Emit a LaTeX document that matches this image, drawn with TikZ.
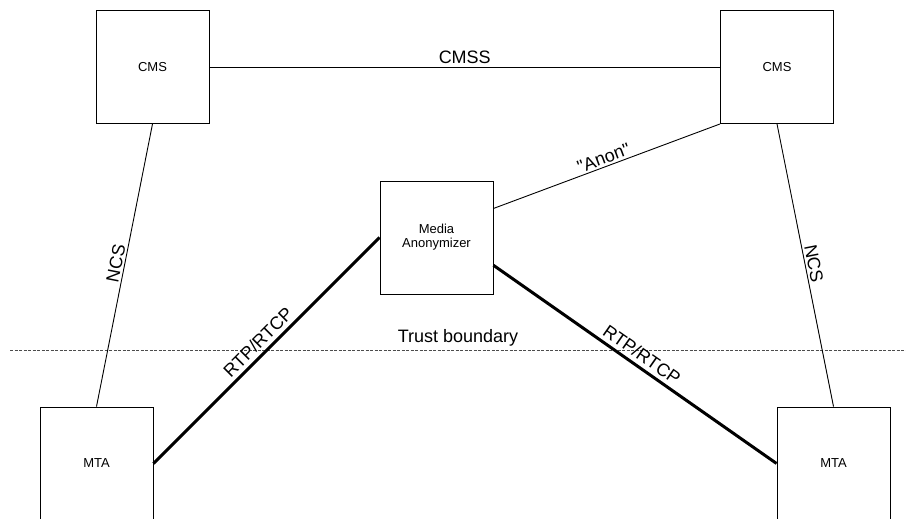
\documentclass[tikz,border=0pt]{standalone}
\usepackage{fontspec}
\setmainfont{Liberation Sans}
\newfontfamily\plainsans{Liberation Sans}
\tikzset{mbox/.style = {shape = rectangle,
                        draw,
                        line width = 0.9pt,
                        minimum width = 113pt,
                        minimum height = 113pt,
                        inner sep = 0pt,
                        align = center,
                        font = \fontsize{13}{14}\selectfont},
         mlink/.style = {line width = 0.9pt},
         mmedia/.style = {line width = 3pt},
         mlabel/.style = {font = \fontsize{18}{20}\selectfont,
                          inner sep = 2pt},
         mtrust/.style = {line width = 0.9pt,
                          draw = black!70,
                          dash pattern = on 3pt off 1.5pt}}

\begin{document}
\begin{tikzpicture}[x=1pt,y=-1pt]
		\useasboundingbox (0,0) rectangle (906,519);
		\node[mbox] (cms1) at (152.5,67) {CMS};
		\node[mbox] (cms2) at (777,67) {CMS};
		\node[mbox] (anon) at (436.5,237.5) {Media\\Anonymizer};
		\node[mbox] (mta1) at (96.5,463.5) {MTA};
		\node[mbox] (mta2) at (833.5,463.5) {MTA};
		\coordinate (tb1) at (10,350);
		\coordinate (tb2) at (906,350);
		\draw[mtrust] (tb1) -- (tb2) node[mlabel, pos=0.5, above=1pt] {Trust boundary};
		\draw[mlink] (cms1) -- (cms2) node[mlabel, midway, above=1pt] {CMSS};
		\draw[mlink] (mta1.north) -- (cms1.south) node[mlabel, midway, sloped, above] {NCS};
		\draw[mlink] (cms2.south) -- (mta2.north) node[mlabel, midway, sloped, above] {NCS};
		\draw[mlink] (anon.27.6) -- (cms2.south west) node[mlabel, midway, sloped, above] {\plainsans"Anon"};
		\draw[mmedia] (mta1.east) -- (anon.west) node[mlabel, midway, sloped, above=2pt] {RTP/RTCP};
		\draw[mmedia] (anon.-26) -- (mta2.west) node[mlabel, midway, sloped, above=2pt] {RTP/RTCP};
	\end{tikzpicture}
\end{document}
